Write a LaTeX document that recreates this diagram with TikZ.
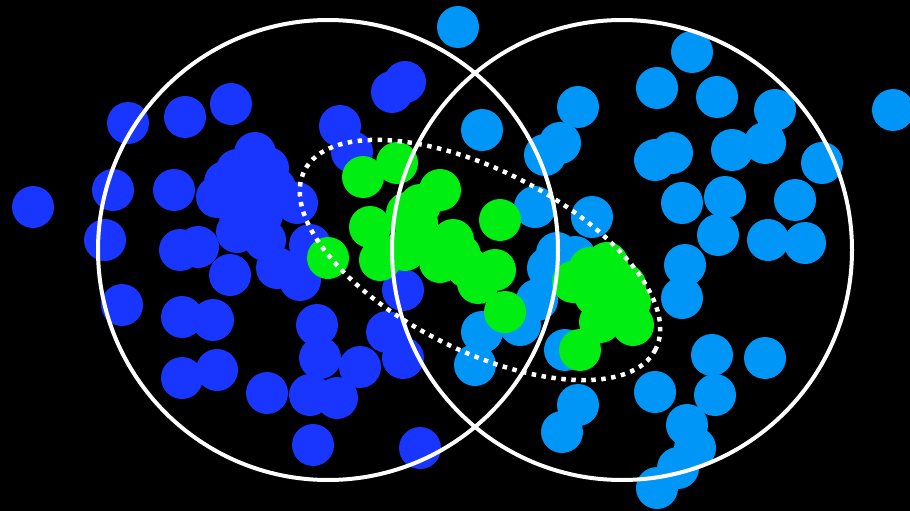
\documentclass[tikz,border=0pt]{standalone}
\definecolor{dblue}{RGB}{24,54,255}
\definecolor{lblue}{RGB}{0,150,248}
\definecolor{dgreen}{RGB}{0,238,18}
\begin{document}
\begin{tikzpicture}[x=1pt,y=-1pt,
  bdot/.style={fill=dblue},
  ldot/.style={fill=lblue},
  gdot/.style={fill=dgreen},
  ring/.style={draw=white,line width=4pt},
  dotring/.style={draw=white,line width=4.5pt,dash pattern=on 4.5pt off 5.5pt}]
\fill[black] (0,0) rectangle (910,511);
\useasboundingbox (0,0) rectangle (910,511);
\foreach \x/\y in {33/207,128/123,185/117,231/104,392/92,405/82,340/126,352/152,113/190,174/190,255/153,237/170,268/168,217/197,245/200,297/203,262/215,237/232,240/215,255/190,225/182,275/188,265/240,105/240,180/250,198/247,230/275,277/268,300/280,310/245,403/290,317/325,320/358,387/332,403/358,360/367,122/305,182/317,213/320,182/378,217/370,267/393,310/395,337/398,313/445,420/448}
  \fill[bdot] (\x,\y) circle (21);
\foreach \x/\y in {458/27,692/52,657/88,717/97,578/107,482/130,775/110,560/143,545/155,655/160,672/153,732/150,765/143,822/163,893/110,682/203,725/197,795/200,718/235,768/240,805/243,535/207,592/217,557/253,575/257,685/265,682/298,548/268,537/300,520/325,482/332,475/365,565/350,712/355,765/358,655/392,715/395,578/405,562/432,687/425,695/448,678/468,657/488}
  \fill[ldot] (\x,\y) circle (21);
\foreach \x/\y in {363/177,397/163,440/190,370/227,380/260,417/223,407/213,427/243,453/240,440/262,467/267,495/270,478/283,460/255,420/205,500/220,505/312,328/258,405/250,607/263,590/268,573/282,625/285,612/307,633/325,600/322,595/295,630/302,580/350}
  \fill[gdot] (\x,\y) circle (21);
\coordinate (lc) at (328,250);
\coordinate (rc) at (622,250);
\coordinate (ec) at (480,260);
\draw[ring] (lc) circle (230);
\draw[ring] (rc) circle (230);
\draw[dotring,rotate around={-27:(ec)}] (ec) ellipse (197 and 90);
\end{tikzpicture}
\end{document}
